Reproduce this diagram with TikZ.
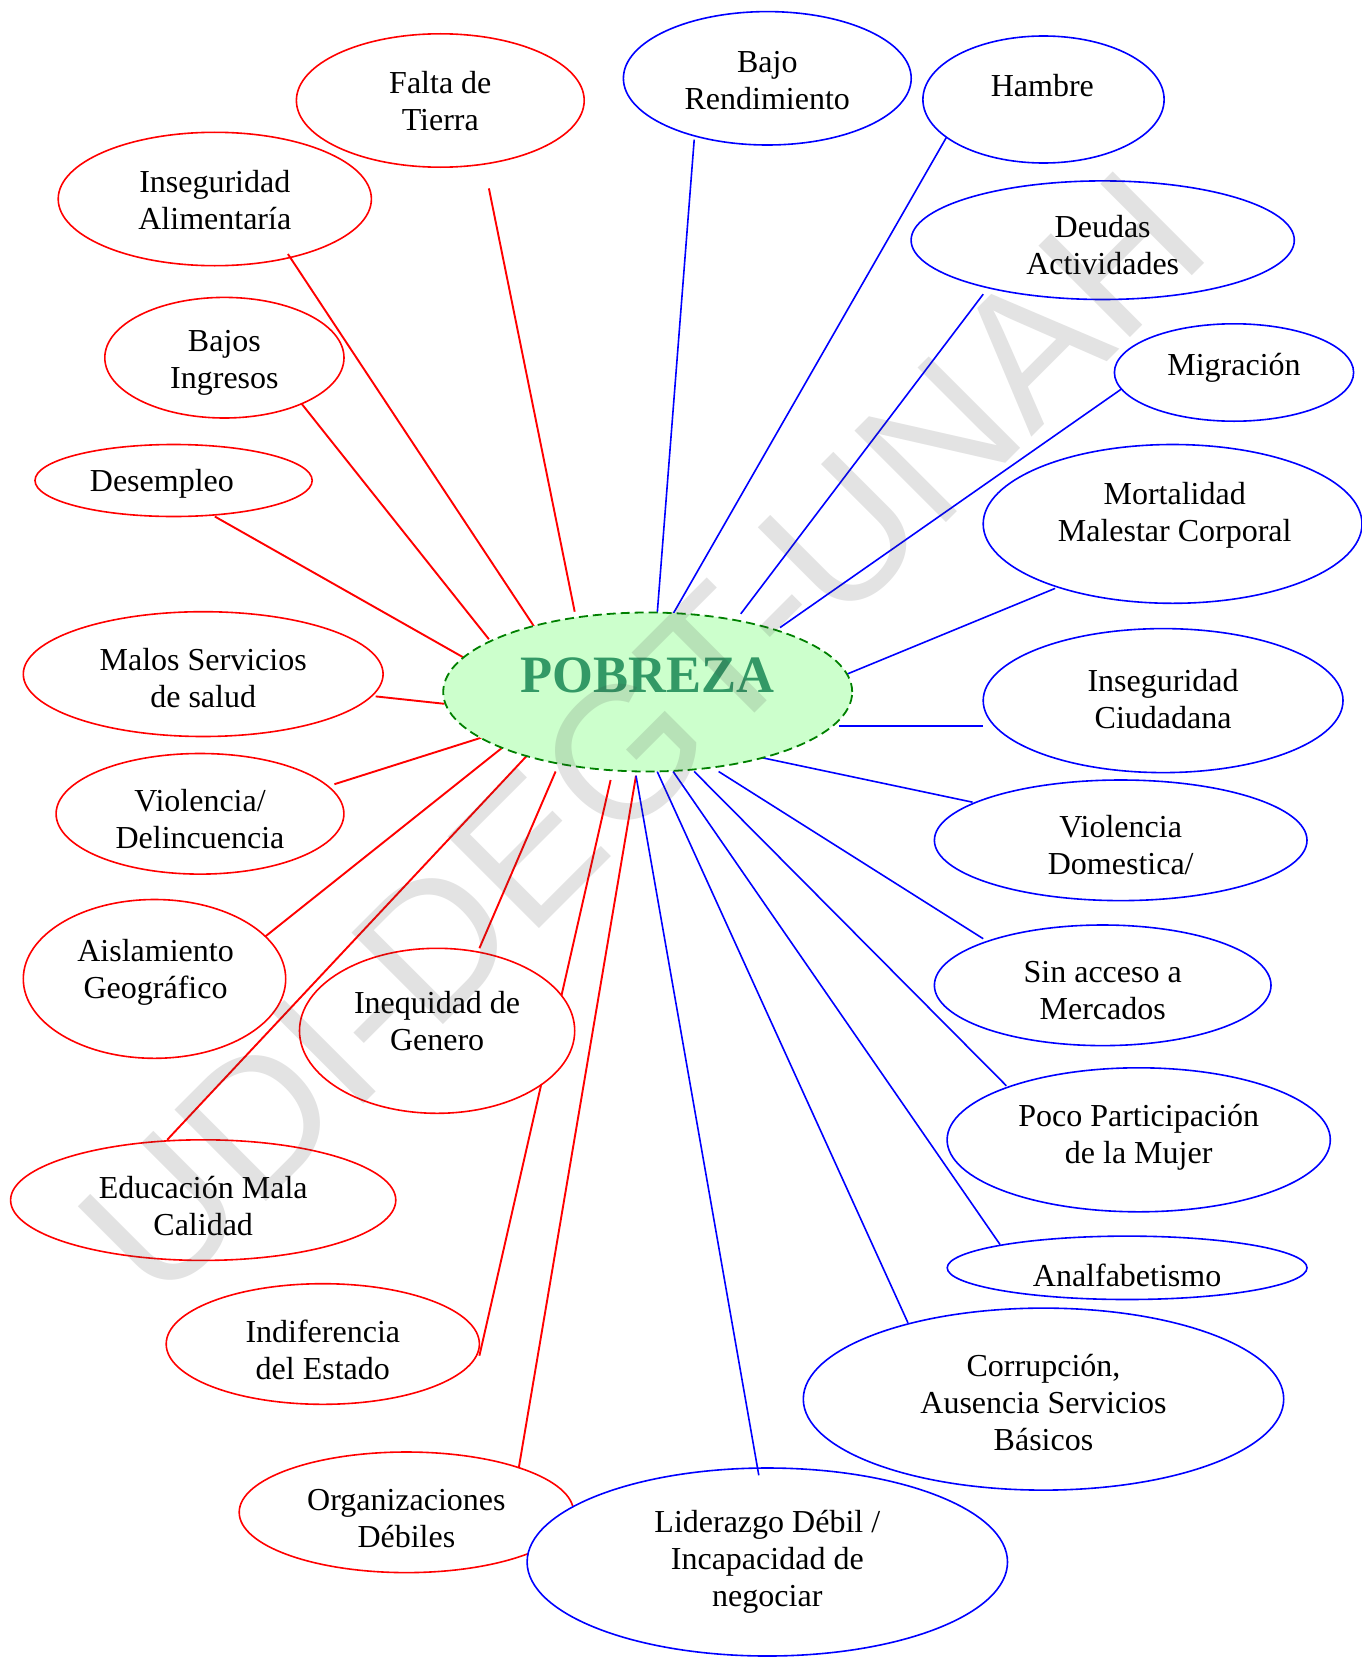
\documentclass[tikz,border=0pt]{standalone}
\usepackage{fontspec}
\setmainfont{Liberation Serif}
\newfontfamily\wmfont{Liberation Sans}
\usetikzlibrary{shapes.geometric}
\definecolor{pgreen}{HTML}{339966}
\definecolor{pfill}{HTML}{CCFFCC}
\definecolor{pborder}{HTML}{008000}
\tikzset{
 rb/.style={ellipse, draw=red, line width=1.6pt, fill=white, inner sep=0pt},
 bb/.style={ellipse, draw=blue, line width=1.6pt, fill=white, inner sep=0pt},
 lbl/.style={align=center, font=\fontsize{32}{37}\selectfont, inner sep=0pt, yshift=-3pt},
 rl/.style={draw=red, line width=1.9pt},
 bl/.style={draw=blue, line width=1.6pt},
}
\newcommand\mkbubble[9]{%
 \node[#2, minimum width=#5*2pt, minimum height=#6*2pt] (#1) at (#3,#4) {};
 \node[lbl] (#1t) at (#7,#8) {#9};
}
\begin{document}
\begin{tikzpicture}[x=1pt,y=-1pt]
\useasboundingbox (0,0) rectangle (1361,1659);
% connector end points
\coordinate (c1a) at (488.9,188.4);  \coordinate (c1b) at (574.7,611.7);
\coordinate (c2a) at (287.9,254.0);  \coordinate (c2b) at (539.7,635.0);
\coordinate (c3a) at (299.5,401.1);  \coordinate (c3b) at (488.9,639.2);
\coordinate (c4a) at (214.8,516.5);  \coordinate (c4b) at (466.7,659.3);
\coordinate (c5a) at (375.7,696.4);  \coordinate (c5b) at (444.5,703.8);
\coordinate (c6a) at (334.4,784.2);  \coordinate (c6b) at (481.5,737.6);
\coordinate (c7a) at (262.5,938.7);  \coordinate (c7b) at (501.6,748.2);
\coordinate (c8a) at (167.2,1139.8); \coordinate (c8b) at (527.0,755.6);
\coordinate (c9a) at (479.4,948.2);  \coordinate (c9b) at (555.6,771.5);
\coordinate (c10a) at (479.4,1355.7); \coordinate (c10b) at (610.6,780.0);
\coordinate (c11a) at (518.6,1468.9); \coordinate (c11b) at (636.0,775.7);
\coordinate (d1a) at (694.2,139.7);  \coordinate (d1b) at (657.2,613.8);
\coordinate (d2a) at (949.3,132.3);  \coordinate (d2b) at (673.1,613.8);
\coordinate (d3a) at (983.2,294.2);  \coordinate (d3b) at (740.8,613.8);
\coordinate (d4a) at (1123.9,387.3); \coordinate (d4b) at (780.0,627.6);
\coordinate (d5a) at (1055.1,588.4); \coordinate (d5b) at (839.2,677.3);
\coordinate (d6a) at (983.2,726.0);  \coordinate (d6b) at (839.2,726.0);
\coordinate (d7a) at (972.6,802.2);  \coordinate (d7b) at (762.0,757.7);
\coordinate (d8a) at (983.2,938.7);  \coordinate (d8b) at (718.6,771.5);
\coordinate (d9a) at (1006.4,1085.8); \coordinate (d9b) at (694.2,771.5);
\coordinate (d10a) at (1000.1,1244.6); \coordinate (d10b) at (673.1,771.5);
\coordinate (d11a) at (908.0,1322.9); \coordinate (d11b) at (657.2,771.5);
\coordinate (d12a) at (758.8,1475.3); \coordinate (d12b) at (636.0,775.7);
% connectors under the ellipses
\draw[rl] (c1a) -- (c1b);
\draw[rl] (c3a) -- (c3b);
\draw[rl] (c4a) -- (c4b);
\draw[rl] (c5a) -- (c5b);
\draw[rl] (c6a) -- (c6b);
\draw[rl] (c7a) -- (c7b);
\draw[rl] (c8a) -- (c8b);
\draw[rl] (c9a) -- (c9b);
\draw[rl] (c10a) -- (c10b);
\draw[rl] (c11a) -- (c11b);
\draw[bl] (d1a) -- (d1b);
\draw[bl] (d2a) -- (d2b);
\draw[bl] (d3a) -- (d3b);
\draw[bl] (d4a) -- (d4b);
\draw[bl] (d5a) -- (d5b);
\draw[bl] (d6a) -- (d6b);
\draw[bl] (d7a) -- (d7b);
\draw[bl] (d8a) -- (d8b);
\draw[bl] (d9a) -- (d9b);
\draw[bl] (d10a) -- (d10b);
\draw[bl] (d11a) -- (d11b);
% red ellipses
\mkbubble{falta}{rb}{440.3}{100.5}{143.9}{66.7}{440.3}{98.4}{Falta de\\Tierra}
\mkbubble{insal}{rb}{214.8}{199.0}{156.6}{66.7}{214.8}{196.8}{Inseguridad\\Alimentaría}
\mkbubble{bajos}{rb}{224.4}{357.7}{119.6}{60.3}{224.4}{359.8}{Bajos\\Ingresos}
\mkbubble{desem}{rb}{173.6}{480.5}{138.6}{36.0}{161.9}{480.5}{Desempleo}
\mkbubble{malos}{rb}{203.2}{674.1}{179.9}{62.4}{203.2}{675.2}{Malos Servicios\\de salud}
\mkbubble{viol}{rb}{200.0}{813.8}{143.9}{60.3}{200.0}{816.0}{Violencia/\\Delincuencia}
\mkbubble{aisl}{rb}{154.5}{978.9}{131.2}{79.4}{155.6}{969.4}{Aislamiento\\Geográfico}
\mkbubble{ineq}{rb}{437.1}{1030.8}{137.6}{82.5}{437.1}{1018.0}{Inequidad de\\Genero}
\mkbubble{educ}{rb}{203.2}{1200.1}{192.6}{60.3}{203.2}{1203.3}{Educación Mala\\Calidad}
\mkbubble{indif}{rb}{322.8}{1344.0}{156.6}{60.3}{322.8}{1347.2}{Indiferencia\\del Estado}
\mkbubble{organ}{rb}{406.4}{1512.3}{167.2}{60.3}{406.4}{1515.5}{Organizaciones\\Débiles}
% blue ellipses
\mkbubble{bren}{bb}{767.3}{78.3}{143.9}{66.7}{767.3}{77.3}{Bajo\\Rendimiento}
\mkbubble{hamb}{bb}{1043.5}{99.5}{120.6}{63.5}{1042.4}{82.5}{Hambre}
\mkbubble{deud}{bb}{1102.7}{240.2}{191.6}{59.3}{1102.7}{242.4}{Deudas\\Actividades}
\mkbubble{migr}{bb}{1234.0}{372.5}{119.6}{48.7}{1234.0}{365.1}{Migración}
\mkbubble{mort}{bb}{1172.6}{523.9}{189.4}{79.4}{1174.7}{512.2}{Mortalidad\\Malestar Corporal}
\mkbubble{insc}{bb}{1163.1}{700.6}{179.9}{72.0}{1163.1}{696.4}{Inseguridad\\Ciudadana}
\mkbubble{vdom}{bb}{1120.7}{840.3}{186.3}{60.3}{1120.7}{842.4}{Violencia\\Domestica/}
\mkbubble{sina}{bb}{1102.7}{985.3}{168.3}{60.3}{1102.7}{987.4}{Sin acceso a\\Mercados}
\mkbubble{poco}{bb}{1138.7}{1139.8}{191.6}{72.0}{1138.7}{1134.5}{Poco Participación\\de la Mujer}
\mkbubble{analf}{bb}{1127.1}{1267.8}{179.9}{31.7}{1127.1}{1272.1}{Analfabetismo}
\mkbubble{corr}{bb}{1043.5}{1399.1}{240.2}{91.0}{1043.5}{1399.1}{Corrupción,\\Ausencia Servicios\\Básicos}
\mkbubble{lide}{bb}{767.3}{1562.0}{240.2}{94.0}{767.3}{1558.9}{Liderazgo Débil /\\Incapacidad de\\negociar}
% connectors drawn over ellipses
\draw[rl] (c2a) -- (c2b);
\draw[bl] (d12a) -- (d12b);
% centre
\node[ellipse, draw=pborder, dashed, dash pattern=on 9pt off 5pt, line width=1.8pt, fill=pfill,
      minimum width=409pt, minimum height=159pt, inner sep=0pt] (pob) at (647.7,692) {};
\node[font=\fontsize{52.5}{60}\selectfont\bfseries, text=pgreen, inner sep=0pt] (pobt) at (647.7,675) {POBREZA};
% watermark
\node[rotate=45, font=\wmfont\fontsize{188}{188}\selectfont, text=black!75, opacity=0.15, inner sep=0pt] (wm) at (642,735) {UDI-DEGT-UNAH};
\end{tikzpicture}
\end{document}
